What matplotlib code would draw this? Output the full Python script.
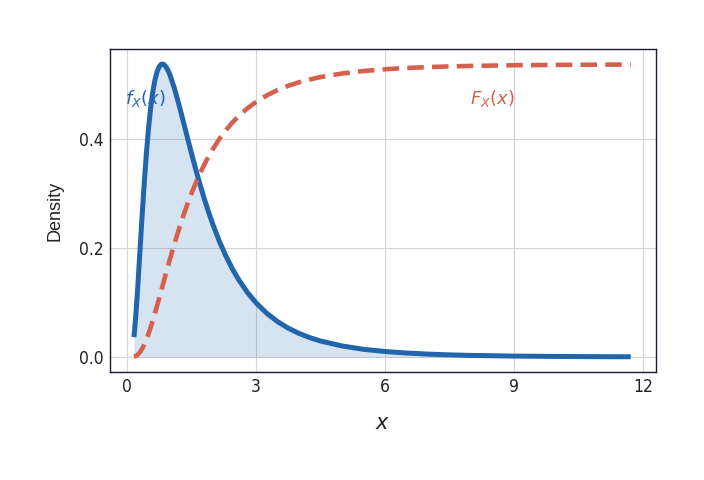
import numpy as np
import matplotlib
matplotlib.use("Agg")
import matplotlib.pyplot as plt
from matplotlib import font_manager

# values
x_vals = [0.16, 0.18, 0.2, 0.22, 0.25, 0.3, 0.35, 0.4, 0.45, 0.5, 0.55, 0.6, 0.65,
          0.7, 0.75, 0.8, 0.85, 0.9, 0.95, 1.0, 1.1, 1.2, 1.3, 1.4, 1.5, 1.6, 1.7,
          1.8, 1.9, 2.0, 2.15, 2.3, 2.45, 2.6, 2.8, 3.0, 3.25, 3.5, 3.75, 4.0, 4.25,
          4.5, 5.0, 5.5, 6.0, 6.5, 7.0, 7.5, 8.0, 9.0, 10.0, 11.0, 11.71]
pdf_vals = [0.0365, 0.0529, 0.0722, 0.0939, 0.1295, 0.1938, 0.2586, 0.3193, 0.3735,
            0.4197, 0.4573, 0.4868, 0.5087, 0.5238, 0.5330, 0.5371, 0.5368, 0.5329,
            0.5261, 0.5169, 0.4932, 0.4650, 0.4347, 0.4036, 0.3730, 0.3435, 0.3155,
            0.2892, 0.2648, 0.2422, 0.2116, 0.1849, 0.1615, 0.1413, 0.1183, 0.0993,
            0.0801, 0.0649, 0.0528, 0.0432, 0.0355, 0.0293, 0.0202, 0.0141, 0.0101,
            0.0073, 0.0053, 0.0039, 0.0029, 0.0017, 0.0010, 0.0006, 0.00045]
cdf_vals = [0.0007, 0.0011, 0.0018, 0.0027, 0.0045, 0.0088, 0.0149, 0.0227, 0.0320,
            0.0427, 0.0545, 0.0672, 0.0805, 0.0944, 0.1086, 0.1230, 0.1374, 0.1518,
            0.1660, 0.1800, 0.2072, 0.2329, 0.2571, 0.2796, 0.3005, 0.3197, 0.3373,
            0.3536, 0.3685, 0.3820, 0.4003, 0.4162, 0.4302, 0.4424, 0.4562, 0.4680,
            0.4799, 0.4896, 0.4975, 0.5039, 0.5091, 0.5135, 0.5200, 0.5246, 0.5278,
            0.5301, 0.5317, 0.5330, 0.5339, 0.5351, 0.5358, 0.5362, 0.5364]

x_ticks = [0, 3, 6, 9, 12]
y_ticks = [0.0, 0.2, 0.4]

BLUE = "#2166ac"
RED = "#d6604d"

# the reference ticks use a narrow face; take one if installed
condensed = [f for f in font_manager.fontManager.ttflist
             if "Narrow" in f.name or f.stretch in ("condensed", "semi-condensed")]
if condensed:
    tick_family, tick_stretch = condensed[0].name, condensed[0].stretch
else:
    tick_family, tick_stretch = "Liberation Sans", "normal"

fig = plt.figure(figsize=(7.04, 4.8), dpi=100)
ax = fig.add_axes([0.156, 0.225, 0.776, 0.673])

ax.fill_between(x_vals, 0, pdf_vals, color=BLUE, alpha=0.18, lw=0)
ax.plot(x_vals, pdf_vals, color=BLUE, lw=3.6, solid_capstyle="butt",
        solid_joinstyle="round")
line, = ax.plot(x_vals, cdf_vals, color=RED, lw=3.3, dash_capstyle="butt")
line.set_dashes([3.6, 1.8])

ax.text(0.42, 0.475, r"$f_X(x)$", color=BLUE, fontsize=13, ha="center", va="center")
ax.text(8.5, 0.475, r"$F_X(x)$", color=RED, fontsize=13, ha="center", va="center")

ax.set_xlim(-0.4, 12.3)
ax.set_ylim(-0.0275, 0.565)
ax.set_xticks(x_ticks)
ax.set_xticklabels([str(t) for t in x_ticks])
ax.set_yticks(y_ticks)
ax.set_yticklabels([f"{t:.1f}" for t in y_ticks])

for lab in ax.get_xticklabels() + ax.get_yticklabels():
    lab.set_family(tick_family)
    lab.set_stretch(tick_stretch)
    lab.set_fontsize(12.5)
    lab.set_color("#222222")
ax.tick_params(length=0, pad=4.5)

ax.grid(True, color="#d4d4d4", lw=0.8)
ax.set_axisbelow(True)
for s in ax.spines.values():
    s.set_color("#1a1a2e")
    s.set_linewidth(1.0)

ax.set_ylabel("Density", family=["Liberation Sans", "DejaVu Sans"], fontsize=13,
              color="#222222", labelpad=11)
ax.set_xlabel(r"$x$", fontsize=15, color="#222222", labelpad=12)

fig.savefig("out.png", dpi=100)
